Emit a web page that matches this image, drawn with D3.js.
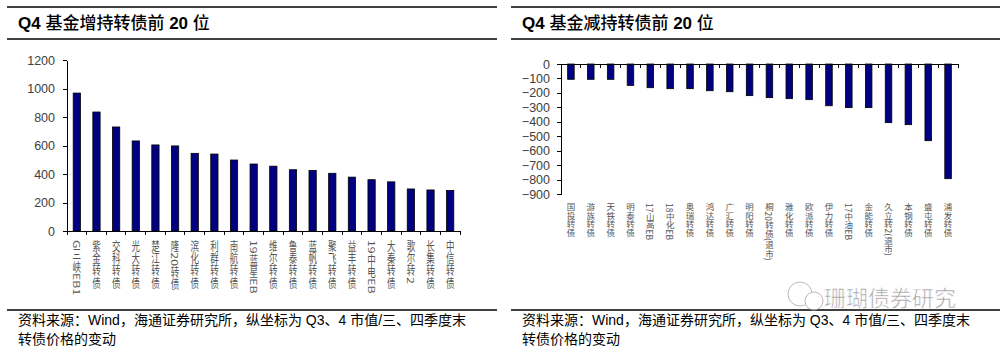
<!DOCTYPE html>
<html lang="zh">
<head>
<meta charset="utf-8">
<title>Q4 基金增减持转债前 20 位</title>
<script src="https://d3js.org/d3.v7.min.js"></script>
<style>
    body { margin: 0; background: #fff; }
    svg text { font-family: "Liberation Sans", Arial, "Noto Sans CJK SC", sans-serif; }
    .title { font-size: 17px; font-weight: bold; fill: #000; }
    .note { font-size: 14px; fill: #000; }
    .axis text { font-size: 12.5px; fill: #404040; }
    .axis path, .axis line { stroke: #000; stroke-width: 1; shape-rendering: crispEdges; }
    .xlab { font-size: 8.5px; fill: #555; writing-mode: vertical-rl; font-family: "Noto Sans CJK SC", sans-serif; }
</style>
</head>
<body>
<script>
// 增持前20
const incNames = ["G三峡EB1", "紫金转债", "交科转债", "光大转债", "楚江转债", "隆20转债", "滨化转债",
    "利群转债", "南航转债", "19蓝星EB", "维尔转债", "鲁泰转债", "蓝帆转债", "聚飞转债", "益丰转债",
    "19中电EB", "大秦转债", "歌尔转2", "长集转债", "中信转债"];
const incValues = [968, 835, 730, 632, 604, 597, 545, 540, 498, 470, 455, 430, 425, 405, 378,
    360, 345, 295, 288, 285];
const incTicks = [0, 200, 400, 600, 800, 1000, 1200];

// 减持前20
const decNames = ["国投转债", "游族转债", "天铁转债", "明泰转债", "17山高EB", "18中化EB", "奥瑞转债",
    "鸿达转债", "广汇转债", "明阳转债", "桐20转债(退市)", "雅化转债", "欧派转债", "伊力转债", "17中油EB",
    "金能转债", "久立转2(退市)", "本钢转债", "盛屯转债", "浦发转债"];
const decValues = [-106, -106, -106, -148, -164, -171, -171, -185, -192, -219, -233, -240, -247,
    -289, -302, -302, -406, -420, -531, -794];
const decTicks = [0, -100, -200, -300, -400, -500, -600, -700, -800, -900];

const width = 1005, height = 352;
const svg = d3.select("body").append("svg")
    .attr("width", width).attr("height", height);

// 标题和分隔线
function frame(x0, x1, title) {
    const g = svg.append("g");
    [7, 39, 310].forEach(y => {
        g.append("line").attr("x1", x0).attr("x2", x1).attr("y1", y).attr("y2", y)
            .attr("stroke", "#000").attr("stroke-width", 1.5);
    });
    const t = g.append("text").attr("class", "title").attr("x", x0 + 11).attr("y", 29);
    t.append("tspan").text(title[0]);
    t.append("tspan").attr("font-family", "Noto Sans CJK SC").attr("font-weight", 500).text(title[1]);
    t.append("tspan").text(title[2]);
    t.append("tspan").attr("font-family", "Noto Sans CJK SC").attr("font-weight", 500).text(title[3]);
    const n = g.append("text").attr("class", "note").attr("font-family", "Noto Sans CJK SC");
    n.append("tspan").attr("x", x0 + 11).attr("y", 325)
        .text("资料来源：Wind，海通证券研究所，纵坐标为 Q3、4 市值/三、四季度末");
    n.append("tspan").attr("x", x0 + 11).attr("y", 344).text("转债价格的变动");
}
frame(7, 497, ["Q4 ", "基金增持转债前", " 20 ", "位"]);
frame(511, 1000, ["Q4 ", "基金减持转债前", " 20 ", "位"]);

// 通用柱状图
function barChart(opt) {
    const x = d3.scaleBand().domain(opt.names).range([opt.x0, opt.x1]).paddingInner(opt.pad).paddingOuter(opt.pad / 2);
    const y = d3.scaleLinear().domain(opt.domain).range(opt.yRange);
    const g = svg.append("g");

    g.selectAll("rect.bar").data(opt.values).enter().append("rect")
        .attr("class", "bar")
        .attr("x", (d, i) => x(opt.names[i]))
        .attr("width", x.bandwidth())
        .attr("y", d => Math.min(y(d), y(0)))
        .attr("height", d => Math.abs(y(d) - y(0)))
        .attr("fill", "#000080")
        .attr("stroke", "#000")
        .attr("stroke-width", 0.8);

    // y 轴
    g.append("g").attr("class", "axis")
        .attr("transform", `translate(${opt.x0},0)`)
        .call(d3.axisLeft(y).tickValues(opt.ticks).tickFormat(d3.format("d"))
            .tickSize(4).tickSizeOuter(0).tickPadding(opt.tickPad))
        .call(a => a.selectAll("text").attr("font-family", "Liberation Sans, Arial"));

    // x 轴（在 0 处）
    const step = x.step();
    const xa = g.append("g").attr("class", "axis");
    xa.append("line").attr("x1", opt.x0).attr("x2", opt.x1).attr("y1", y(0)).attr("y2", y(0));
    d3.range(opt.names.length + 1).forEach(i => {
        const xx = opt.x0 + i * step;
        xa.append("line").attr("x1", xx).attr("x2", xx).attr("y1", y(0)).attr("y2", y(0) + 4);
    });

    // 竖排标签
    g.selectAll("text.xlab").data(opt.names).enter().append("text")
        .attr("class", "xlab")
        .attr("transform", d => `translate(${x(d) + x.bandwidth() / 2},${opt.labelY}) scale(1,${opt.labelScale})`)
        .attr("x", 0).attr("y", 0)
        .text(d => d);
}

barChart({
    names: incNames, values: incValues, ticks: incTicks,
    x0: 67, x1: 460, domain: [0, 1200], yRange: [231, 60],
    pad: 0.63, tickPad: 8, labelY: 240, labelScale: 1.45
});
barChart({
    names: decNames, values: decValues, ticks: decTicks,
    x0: 561, x1: 958, domain: [-900, 0], yRange: [194, 64],
    pad: 0.67, tickPad: 7, labelY: 203, labelScale: 1
});

// 水印
const wm = svg.append("g").attr("opacity", 0.8);
wm.append("circle").attr("cx", 800).attr("cy", 294).attr("r", 12).attr("fill", "none").attr("stroke", "#aaa");
wm.append("circle").attr("cx", 814).attr("cy", 301).attr("r", 9).attr("fill", "#fff").attr("stroke", "#aaa");
wm.append("text").attr("x", 824).attr("y", 306).attr("font-size", 22)
    .attr("font-family", "Noto Sans CJK SC").attr("fill", "#888")
    .attr("stroke", "#fff").attr("stroke-width", 0.6)
    .text("珊瑚债券研究");
</script>
</body>
</html>
